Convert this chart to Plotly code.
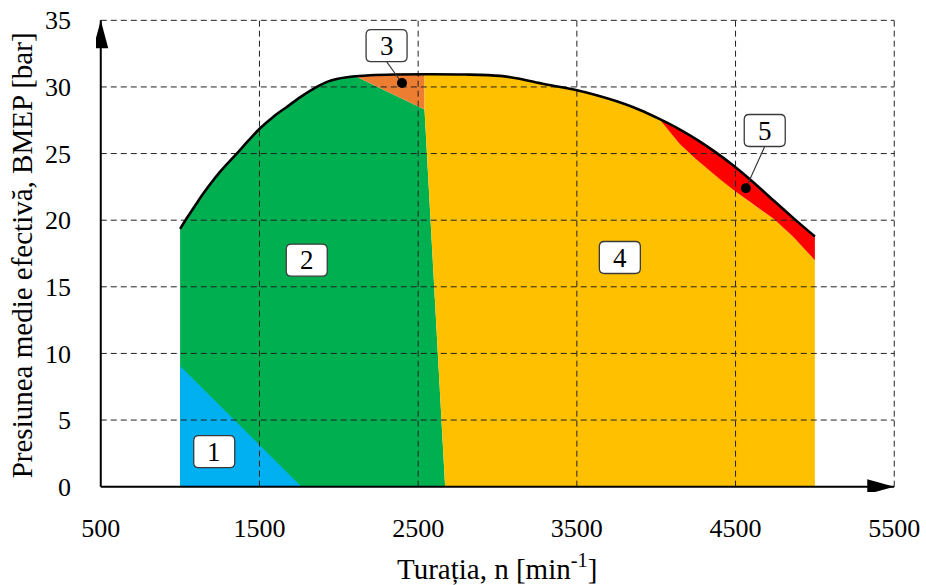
import plotly.graph_objects as go

# Full-load BMEP curve (speed in min^-1, BMEP in bar)
n_full = [1000, 1050, 1100, 1146, 1250, 1357, 1430, 1504, 1590, 1672, 1760, 1861,
          1930, 1987, 2050, 2105, 2200, 2350, 2540, 2800, 3016, 3121, 3300, 3500,
          3630, 3751, 3890, 4020, 4150, 4276, 4380, 4486, 4610, 4738, 4870, 5000]
p_full = [19.35, 20.29, 21.19, 22.0, 23.61, 25.0, 25.97, 26.9, 27.79, 28.5, 29.25, 30.0,
          30.4, 30.6, 30.73, 30.8, 30.88, 30.93, 30.95, 30.93, 30.83, 30.65, 30.2, 29.75,
          29.36, 28.92, 28.31, 27.6, 26.8, 25.9, 25.05, 24.1, 22.87, 21.49, 20.1, 18.77]

# Zone 1 boundary (low load, low speed)
n_z1 = [1000, 1000, 1765]
p_z1 = [0, 9.05, 0]

# Boundary between zones 2/3 and zone 4
n_z3_low = [2105, 2540]
p_z3_low = [30.8, 28.3]
n_z24 = [2540, 2670]
p_z24 = [28.3, 0]

# Lower boundary of zone 5
n_z5_low = [4020, 4080, 4150, 4250, 4400, 4500, 4620, 4740, 4860, 5000]
p_z5_low = [27.6, 26.75, 25.7, 24.6, 23.1, 22.15, 21.1, 20.1, 18.8, 17.0]

# Zone labels and callout points
zone_names = ["1", "2", "3", "4", "5"]
label_n = [1215, 1798, 2301, 3771, 4684]
label_p = [2.63, 17.0, 33.1, 17.2, 26.73]
callout_zone = ["3", "5"]
callout_n = [2398, 4565]
callout_p = [30.3, 22.4]

# Axes
x_ticks = [500, 1500, 2500, 3500, 4500, 5500]
y_ticks = [0, 5, 10, 15, 20, 25, 30, 35]
x_title = "Turația, n [min<sup>-1</sup>]"
y_title = "Presiunea medie efectivă, BMEP [bar]"

colors = {"1": "#00B0F0", "2": "#00B050", "3": "#ED7D31",
          "4": "#FFC000", "5": "#FF0000"}
FONT = "Liberation Serif"


def seg(xs, ys, lo, hi):
    pts = [(x, y) for x, y in zip(xs, ys) if lo <= x <= hi]
    return [p[0] for p in pts], [p[1] for p in pts]


fig = go.Figure()


def add_zone(xs, ys, key):
    fig.add_trace(go.Scatter(x=xs, y=ys, fill="toself", fillcolor=colors[key],
                             mode="lines", line=dict(width=0, color=colors[key]),
                             hoverinfo="skip", showlegend=False))


# Zone 2: from the curve start up to the zone 3 lower edge, down to the 2/4 boundary
cx, cy = seg(n_full, p_full, n_full[0], n_z3_low[0])
add_zone([n_full[0]] + cx + n_z3_low[1:] + n_z24[1:],
         [0] + cy + p_z3_low[1:] + p_z24[1:], "2")

# Zone 1
add_zone(n_z1, p_z1, "1")

# Zone 3
cx, cy = seg(n_full, p_full, n_z3_low[0], n_z3_low[1])
add_zone(cx + [n_z3_low[1]], cy + [p_z3_low[1]], "3")

# Zone 4
cx, cy = seg(n_full, p_full, n_z24[0], n_z5_low[0])
add_zone([n_z24[1], n_z24[0]] + cx + n_z5_low[1:] + [n_z5_low[-1]],
         [p_z24[1], p_z24[0]] + cy + p_z5_low[1:] + [0], "4")

# Zone 5
cx, cy = seg(n_full, p_full, n_z5_low[0], n_full[-1])
add_zone(cx + n_z5_low[::-1], cy + p_z5_low[::-1], "5")

# Dashed grid drawn over the zones
gx, gy = [], []
for xv in x_ticks[1:]:
    gx += [xv, xv, None]
    gy += [y_ticks[0], y_ticks[-1], None]
for yv in y_ticks[1:]:
    gx += [x_ticks[0], x_ticks[-1], None]
    gy += [yv, yv, None]
fig.add_trace(go.Scatter(x=gx, y=gy, mode="lines",
                         line=dict(color="#222222", width=1, dash="6px,4px"),
                         hoverinfo="skip", showlegend=False))

# Axis lines
fig.add_trace(go.Scatter(x=[x_ticks[0], x_ticks[-1], None, x_ticks[0], x_ticks[0]],
                         y=[y_ticks[0], y_ticks[0], None, y_ticks[0], y_ticks[-1]],
                         mode="lines", line=dict(color="black", width=2),
                         hoverinfo="skip", showlegend=False))

# Full-load curve
fig.add_trace(go.Scatter(x=n_full, y=p_full, mode="lines",
                         line=dict(color="black", width=2.6, shape="spline", smoothing=1.0),
                         hoverinfo="skip", showlegend=False))

# Callout leader lines and dots
for z, xn, yp in zip(callout_zone, callout_n, callout_p):
    i = zone_names.index(z)
    fig.add_trace(go.Scatter(x=[label_n[i], xn], y=[label_p[i] - 1.2, yp], mode="lines",
                             line=dict(color="#333333", width=1.1),
                             hoverinfo="skip", showlegend=False))
fig.add_trace(go.Scatter(x=callout_n, y=callout_p, mode="markers",
                         marker=dict(color="black", size=10),
                         hoverinfo="skip", showlegend=False))

shapes = []
# Arrowheads on the axes
shapes.append(dict(type="path", xref="x", yref="y", xsizemode="pixel", ysizemode="pixel",
                   xanchor=x_ticks[0], yanchor=y_ticks[-1],
                   path="M0,0 L-7.5,-28 L7.5,-28 Z", fillcolor="black",
                   line=dict(width=0), layer="above"))
shapes.append(dict(type="path", xref="x", yref="y", xsizemode="pixel", ysizemode="pixel",
                   xanchor=x_ticks[-1], yanchor=y_ticks[0],
                   path="M0,0 L-27,7.5 L-27,-7.5 Z", fillcolor="black",
                   line=dict(width=0), layer="above"))
# Rounded label boxes
box = ("M-15.5,-16 H15.5 Q20.5,-16 20.5,-11 V11 Q20.5,16 15.5,16 H-15.5 "
       "Q-20.5,16 -20.5,11 V-11 Q-20.5,-16 -15.5,-16 Z")
for xn, yp in zip(label_n, label_p):
    shapes.append(dict(type="path", xref="x", yref="y", xsizemode="pixel", ysizemode="pixel",
                       xanchor=xn, yanchor=yp, path=box, fillcolor="white",
                       line=dict(color="#3a3a3a", width=1.3), layer="above"))

annotations = []
for t, xn, yp in zip(zone_names, label_n, label_p):
    annotations.append(dict(x=xn, y=yp, xref="x", yref="y", text=t, showarrow=False,
                            font=dict(family=FONT, size=27, color="black"),
                            xanchor="center", yanchor="middle"))
annotations.append(dict(x=0.499, y=-0.158, xref="paper", yref="paper", text=x_title,
                        showarrow=False, font=dict(family=FONT, size=29, color="black"),
                        xanchor="center", yanchor="middle"))
annotations.append(dict(x=-0.092, y=0.4965, xref="paper", yref="paper", text=y_title,
                        textangle=-90, showarrow=False,
                        font=dict(family=FONT, size=29, color="black"),
                        xanchor="center", yanchor="middle"))

fig.update_layout(
    width=926, height=585,
    margin=dict(l=96, r=27, t=15, b=93),
    paper_bgcolor="white", plot_bgcolor="white",
    shapes=shapes, annotations=annotations,
    xaxis=dict(range=[470, 5530], tickvals=x_ticks, ticktext=[str(v) for v in x_ticks],
               showgrid=False, zeroline=False, showline=False, ticks="", automargin=False,
               ticklabelstandoff=18, tickfont=dict(family=FONT, size=26, color="black")),
    yaxis=dict(range=[-0.4, 35.4], tickvals=y_ticks, ticktext=[str(v) for v in y_ticks],
               showgrid=False, zeroline=False, showline=False, ticks="", automargin=False,
               ticklabelstandoff=24, tickfont=dict(family=FONT, size=26, color="black")),
)

fig.write_html("out.html")
